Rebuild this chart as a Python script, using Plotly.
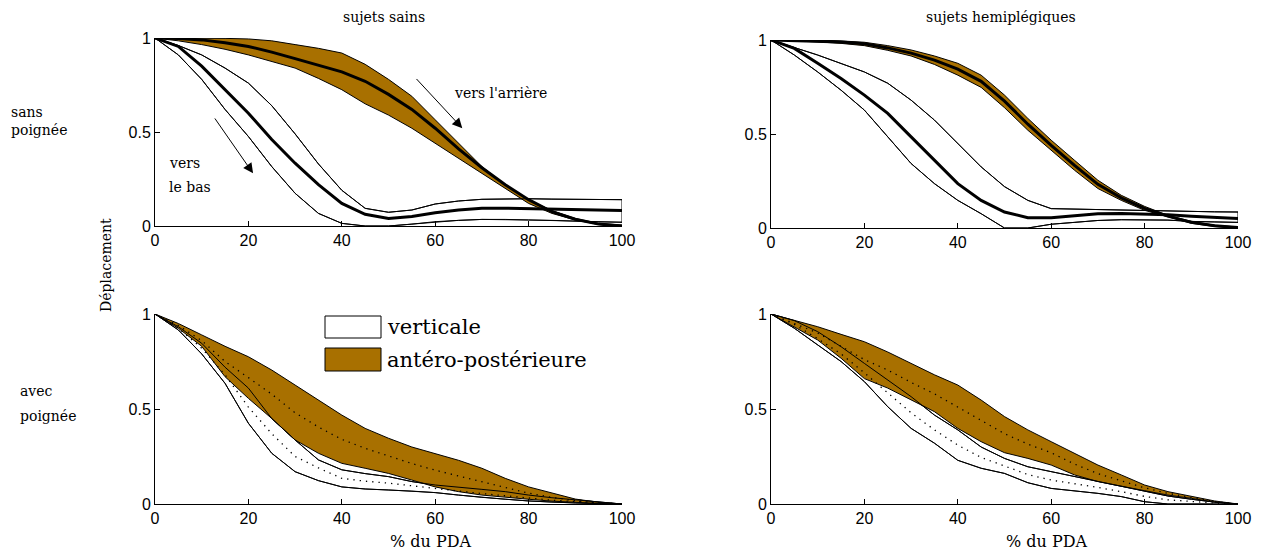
import plotly.graph_objects as go

W, H = 1264, 556
BROWN = "#A87000"

x_pct = [0, 5, 10, 15, 20, 25, 30, 35, 40, 45, 50, 55, 60, 65, 70, 75, 80, 85, 90, 95, 100]
x_ticks = [0, 20, 40, 60, 80, 100]
y_ticks = [0, 0.5, 1]
y_tick_labels = ["0", "0.5", "1"]

# top-left: sujets sains, sans poignée
tl_vert_up = [1, 0.96, 0.91, 0.84, 0.76, 0.64, 0.49, 0.33, 0.19, 0.094, 0.073, 0.085, 0.117, 0.133, 0.142, 0.145, 0.145, 0.143, 0.141, 0.14, 0.14]
tl_vert_mean = [1, 0.955, 0.85, 0.725, 0.6, 0.46, 0.334, 0.22, 0.12, 0.062, 0.04, 0.05, 0.07, 0.085, 0.094, 0.095, 0.092, 0.09, 0.087, 0.084, 0.082]
tl_vert_lo = [1, 0.91, 0.78, 0.62, 0.476, 0.316, 0.174, 0.067, 0.014, 0.0, 0.0, 0.01, 0.023, 0.03, 0.035, 0.035, 0.032, 0.03, 0.025, 0.022, 0.02]
tl_ap_up = [1, 1, 1, 0.998, 0.995, 0.985, 0.965, 0.945, 0.92, 0.86, 0.78, 0.69, 0.565, 0.44, 0.316, 0.218, 0.139, 0.082, 0.04, 0.014, 0.005]
tl_ap_mean = [1, 0.997, 0.99, 0.975, 0.955, 0.925, 0.89, 0.855, 0.82, 0.77, 0.70, 0.62, 0.52, 0.41, 0.31, 0.22, 0.14, 0.076, 0.036, 0.01, 0.0]
tl_ap_lo = [1, 0.985, 0.965, 0.94, 0.91, 0.875, 0.84, 0.785, 0.725, 0.65, 0.59, 0.52, 0.44, 0.36, 0.28, 0.20, 0.12, 0.067, 0.032, 0.008, 0.0]

# top-right: sujets hemiplégiques, sans poignée
tr_vert_up = [1, 0.96, 0.92, 0.875, 0.83, 0.77, 0.68, 0.574, 0.45, 0.325, 0.22, 0.147, 0.103, 0.1, 0.097, 0.095, 0.092, 0.09, 0.088, 0.086, 0.085]
tr_vert_mean = [1, 0.955, 0.876, 0.795, 0.707, 0.61, 0.485, 0.36, 0.236, 0.147, 0.085, 0.055, 0.055, 0.065, 0.076, 0.077, 0.075, 0.07, 0.062, 0.056, 0.05]
tr_vert_lo = [1, 0.92, 0.83, 0.733, 0.627, 0.485, 0.343, 0.236, 0.147, 0.076, 0.0, 0.0, 0.02, 0.03, 0.04, 0.044, 0.045, 0.042, 0.035, 0.032, 0.03]
tr_ap_up = [1, 1, 1, 0.995, 0.988, 0.97, 0.947, 0.915, 0.876, 0.813, 0.707, 0.583, 0.467, 0.36, 0.254, 0.174, 0.115, 0.067, 0.036, 0.015, 0.005]
tr_ap_mean = [1, 0.998, 0.995, 0.99, 0.98, 0.958, 0.93, 0.893, 0.845, 0.78, 0.675, 0.552, 0.44, 0.333, 0.232, 0.16, 0.104, 0.063, 0.03, 0.012, 0.002]
tr_ap_lo = [1, 0.995, 0.99, 0.982, 0.97, 0.945, 0.915, 0.87, 0.813, 0.748, 0.64, 0.52, 0.414, 0.307, 0.21, 0.147, 0.094, 0.059, 0.025, 0.008, 0.0]

# bottom-left: sujets sains, avec poignée
bl_vert_up = [1, 0.933, 0.846, 0.72, 0.61, 0.45, 0.337, 0.232, 0.18, 0.16, 0.144, 0.118, 0.1, 0.09, 0.077, 0.065, 0.047, 0.033, 0.021, 0.01, 0]
bl_vert_mean = [1, 0.925, 0.82, 0.68, 0.51, 0.37, 0.25, 0.19, 0.135, 0.12, 0.11, 0.095, 0.08, 0.068, 0.055, 0.043, 0.03, 0.02, 0.013, 0.006, 0]
bl_vert_lo = [1, 0.916, 0.79, 0.635, 0.425, 0.267, 0.17, 0.123, 0.09, 0.079, 0.074, 0.068, 0.06, 0.047, 0.035, 0.025, 0.016, 0.01, 0.005, 0.002, 0]
bl_ap_up = [1, 0.95, 0.89, 0.83, 0.775, 0.705, 0.626, 0.547, 0.468, 0.398, 0.346, 0.30, 0.267, 0.23, 0.188, 0.135, 0.09, 0.056, 0.026, 0.009, 0]
bl_ap_mean = [1, 0.94, 0.86, 0.75, 0.665, 0.578, 0.48, 0.405, 0.34, 0.293, 0.253, 0.213, 0.178, 0.147, 0.118, 0.085, 0.057, 0.035, 0.017, 0.006, 0]
bl_ap_lo = [1, 0.925, 0.83, 0.67, 0.556, 0.45, 0.337, 0.267, 0.214, 0.188, 0.161, 0.126, 0.09, 0.065, 0.047, 0.035, 0.025, 0.015, 0.008, 0.003, 0]

# bottom-right: sujets hemiplégiques, avec poignée
br_vert_up = [1, 0.965, 0.907, 0.828, 0.74, 0.653, 0.565, 0.468, 0.39, 0.30, 0.24, 0.196, 0.17, 0.144, 0.118, 0.091, 0.065, 0.042, 0.025, 0.01, 0]
br_vert_mean = [1, 0.945, 0.87, 0.79, 0.69, 0.585, 0.48, 0.39, 0.31, 0.245, 0.2, 0.155, 0.126, 0.107, 0.087, 0.065, 0.04, 0.022, 0.013, 0.005, 0]
br_vert_lo = [1, 0.925, 0.837, 0.75, 0.644, 0.512, 0.398, 0.32, 0.23, 0.188, 0.161, 0.112, 0.082, 0.07, 0.056, 0.039, 0.012, 0, 0, 0, 0]
br_ap_up = [1, 0.968, 0.933, 0.893, 0.854, 0.80, 0.74, 0.68, 0.626, 0.547, 0.46, 0.39, 0.328, 0.267, 0.205, 0.153, 0.1, 0.065, 0.039, 0.016, 0]
br_ap_mean = [1, 0.95, 0.9, 0.83, 0.76, 0.705, 0.64, 0.58, 0.51, 0.44, 0.37, 0.315, 0.27, 0.21, 0.16, 0.122, 0.085, 0.056, 0.035, 0.013, 0]
br_ap_lo = [1, 0.933, 0.863, 0.767, 0.66, 0.61, 0.547, 0.486, 0.398, 0.328, 0.27, 0.24, 0.205, 0.153, 0.118, 0.095, 0.07, 0.047, 0.03, 0.01, 0]

column_titles = ["sujets sains", "sujets hemiplégiques"]
legend_labels = ["verticale", "antéro-postérieure"]

# pixel boxes of each panel: (left, right, top, bottom)
panels = [
    dict(box=(155, 622, 38, 226), data=(tl_vert_up, tl_vert_mean, tl_vert_lo, tl_ap_up, tl_ap_mean, tl_ap_lo), mean_style="thick"),
    dict(box=(771, 1238, 40, 228), data=(tr_vert_up, tr_vert_mean, tr_vert_lo, tr_ap_up, tr_ap_mean, tr_ap_lo), mean_style="thick"),
    dict(box=(155, 622, 314, 504), data=(bl_vert_up, bl_vert_mean, bl_vert_lo, bl_ap_up, bl_ap_mean, bl_ap_lo), mean_style="dot"),
    dict(box=(771, 1238, 314, 504), data=(br_vert_up, br_vert_mean, br_vert_lo, br_ap_up, br_ap_mean, br_ap_lo), mean_style="dot"),
]

def px(x):
    return x / W

def py(y):
    return 1 - y / H

fig = go.Figure()
layout_axes = {}
TICKFONT = dict(family="Liberation Sans", size=16, color="black")

for i, p in enumerate(panels):
    n = i + 1
    xa = "x" if n == 1 else f"x{n}"
    ya = "y" if n == 1 else f"y{n}"
    l, r, t, b = p["box"]
    layout_axes["xaxis" if n == 1 else f"xaxis{n}"] = dict(
        domain=[px(l), px(r)], anchor=ya, range=[0, 100], tickvals=x_ticks,
        showline=True, linecolor="black", linewidth=1, ticks="inside", ticklen=5,
        tickcolor="black", showgrid=False, zeroline=False, tickfont=TICKFONT, fixedrange=True,
        automargin=False)
    layout_axes["yaxis" if n == 1 else f"yaxis{n}"] = dict(
        domain=[py(b), py(t)], anchor=xa, range=[0, 1], tickvals=y_ticks, ticktext=y_tick_labels,
        showline=True, linecolor="black", linewidth=1, ticks="inside", ticklen=5,
        tickcolor="black", showgrid=False, zeroline=False, tickfont=TICKFONT, fixedrange=True,
        automargin=False)
    vu, vm, vl, au, am, al = p["data"]
    poly_x = x_pct + x_pct[::-1]
    # vertical band (white)
    fig.add_trace(go.Scatter(x=poly_x, y=vu + vl[::-1], fill="toself", fillcolor="white",
                             mode="lines", line=dict(color="black", width=1), xaxis=xa, yaxis=ya,
                             showlegend=False, hoverinfo="skip"))
    # antero-posterior band (brown)
    fig.add_trace(go.Scatter(x=poly_x, y=au + al[::-1], fill="toself", fillcolor=BROWN,
                             mode="lines", line=dict(color="black", width=1), xaxis=xa, yaxis=ya,
                             showlegend=False, hoverinfo="skip"))
    # edges of vertical band on top
    for edge in (vu, vl):
        fig.add_trace(go.Scatter(x=x_pct, y=edge, mode="lines", line=dict(color="black", width=1),
                                 xaxis=xa, yaxis=ya, showlegend=False, hoverinfo="skip"))
    if p["mean_style"] == "thick":
        ml = dict(color="black", width=3)
    else:
        ml = dict(color="black", width=1.3, dash="1.3px,5px")
    for mean in (vm, am):
        fig.add_trace(go.Scatter(x=x_pct, y=mean, mode="lines", line=ml,
                                 xaxis=xa, yaxis=ya, showlegend=False, hoverinfo="skip"))

SERIF = "DejaVu Serif"

def paper_text(text, x, y, size, xanchor="center", angle=0):
    return dict(text=text, x=px(x), y=py(y), xref="paper", yref="paper", showarrow=False,
                xanchor=xanchor, yanchor="middle", textangle=angle,
                font=dict(family=SERIF, size=size, color="black"))

annotations = [
    paper_text(column_titles[0], 384, 17, 14),
    paper_text(column_titles[1], 1001, 17, 14),
    paper_text("sans", 9, 112, 14, "left"),
    paper_text("poignée", 9, 130, 14, "left"),
    paper_text("avec", 18, 391, 14, "left"),
    paper_text("poignée", 18, 416, 14, "left"),
    paper_text("Déplacement", 106, 265, 14, "center", -90),
    paper_text("% du PDA", 431, 541, 16),
    paper_text("% du PDA", 1047, 541, 16),
    paper_text(legend_labels[0], 385, 327, 21, "left"),
    paper_text(legend_labels[1], 385, 360, 21, "left"),
    # arrows in the top-left panel
    dict(text="", x=65.8, y=0.52, ax=55.7, ay=0.79, xref="x", yref="y", axref="x", ayref="y",
         showarrow=True, arrowhead=2, arrowsize=2, arrowwidth=1, arrowcolor="black"),
    dict(text="vers l'arrière", x=63.5, y=0.71, xref="x", yref="y", showarrow=False, xanchor="left",
         font=dict(family=SERIF, size=14, color="black")),
    dict(text="", x=21.0, y=0.28, ax=12.6, ay=0.58, xref="x", yref="y", axref="x", ayref="y",
         showarrow=True, arrowhead=2, arrowsize=2, arrowwidth=1, arrowcolor="black"),
    dict(text="vers", x=2.6, y=0.335, xref="x", yref="y", showarrow=False, xanchor="left",
         font=dict(family=SERIF, size=14, color="black")),
    dict(text="le bas", x=2.6, y=0.21, xref="x", yref="y", showarrow=False, xanchor="left",
         font=dict(family=SERIF, size=14, color="black")),
]

shapes = [
    dict(type="rect", xref="paper", yref="paper", x0=px(325), x1=px(381), y0=py(338), y1=py(316),
         fillcolor="white", line=dict(color="black", width=1)),
    dict(type="rect", xref="paper", yref="paper", x0=px(325), x1=px(381), y0=py(371), y1=py(348),
         fillcolor=BROWN, line=dict(color="black", width=1)),
]

fig.update_layout(
    width=W, height=H, margin=dict(l=0, r=0, t=0, b=0, pad=0, autoexpand=False),
    paper_bgcolor="white", plot_bgcolor="white", showlegend=False,
    annotations=annotations, shapes=shapes, **layout_axes,
)

fig.write_html("out.html", config={"displayModeBar": False},
               post_script="document.body.style.margin='0px';document.body.style.overflow='hidden';")
